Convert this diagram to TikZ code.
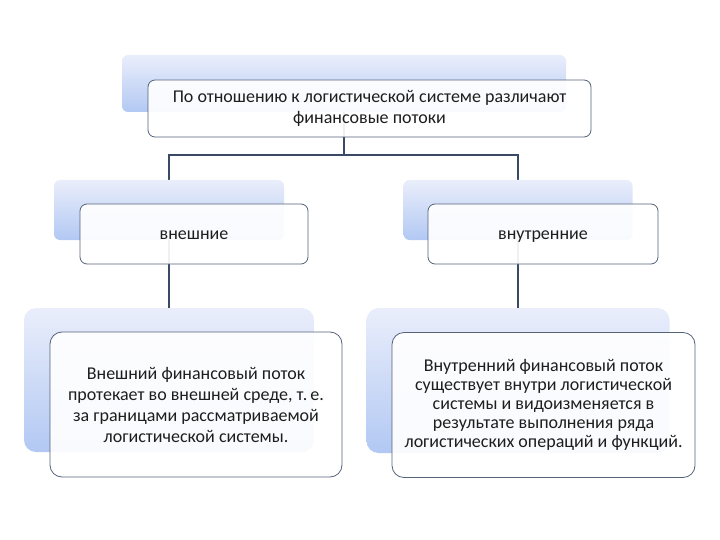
\documentclass[tikz,border=0pt]{standalone}
\usepackage{fontspec}
\setmainfont{Carlito}
\usetikzlibrary{backgrounds}
% Colours of the hierarchy
\definecolor{flowShadeTop}{RGB}{234,238,251}
\definecolor{flowShadeBottom}{RGB}{178,200,243}
\definecolor{flowBorderColor}{RGB}{84,98,122}
\definecolor{flowLineColor}{RGB}{58,74,100}
\definecolor{flowTextColor}{RGB}{30,30,30}
\begin{document}
\begin{tikzpicture}[x=1pt, y=-1pt,
  bgbox/.style={draw=none, rounded corners=6pt, inner sep=0pt,
    top color=flowShadeTop, bottom color=flowShadeBottom},
  frontbox/.style={draw=flowBorderColor, line width=0.8pt, rounded corners=7pt,
    fill=white, fill opacity=0.92, text opacity=1, inner sep=2pt,
    align=center, text=flowTextColor, font=\fontsize{18}{21}\selectfont},
  kindbox/.style={frontbox, text height=14pt, text depth=3pt},
  link/.style={draw=flowLineColor, line width=1.8pt}]
\useasboundingbox (0,0) rectangle (720,540);
% Shaded back plates
\node[bgbox, minimum width=444pt, minimum height=57pt] (topbg) at (344,83.5) {};
\node[bgbox, minimum width=230pt, minimum height=60pt] (extbg) at (169,210) {};
\node[bgbox, minimum width=229pt, minimum height=60pt] (intbg) at (518,210) {};
\node[bgbox, rounded corners=12pt, minimum width=290pt, minimum height=144pt] (extdescbg) at (169,380) {};
\node[bgbox, rounded corners=12pt, minimum width=303pt, minimum height=145pt] (intdescbg) at (518,380.5) {};
% Text boxes
\node[frontbox, minimum width=443pt, minimum height=57pt] (top) at (369.5,108.5)
  {По отношению к логистической системе различают\\финансовые потоки};
\node[kindbox, minimum width=228pt, minimum height=60pt] (ext) at (194,234) {внешние};
\node[kindbox, minimum width=230pt, minimum height=60pt] (int) at (543,234) {внутренние};
\node[frontbox, rounded corners=12pt, minimum width=292pt, minimum height=145pt] (extdesc) at (196,404.5)
  {Внешний финансовый поток\\протекает во внешней среде, т.\,е.\\за границами рассматриваемой\\логистической системы.};
\node[frontbox, rounded corners=12pt, minimum width=303pt, minimum height=145pt,
  font=\fontsize{18}{19}\selectfont] (intdesc) at (543.5,405)
  {Внутренний финансовый поток\\существует внутри логистической\\системы и видоизменяется в\\результате выполнения ряда\\логистических операций и функций.};
% Connectors behind the plates
\begin{scope}[on background layer]
  \coordinate (fork) at ([yshift=-43pt]topbg.south);
  \draw[link] (topbg.south) -- (fork);
  \draw[link] (fork) -| (extbg.north);
  \draw[link] (fork) -| (intbg.north);
  \draw[link] (extbg.south) -- (extdescbg.north);
  \draw[link] (intbg.south) -- (intdescbg.north);
\end{scope}
\end{tikzpicture}
\end{document}
